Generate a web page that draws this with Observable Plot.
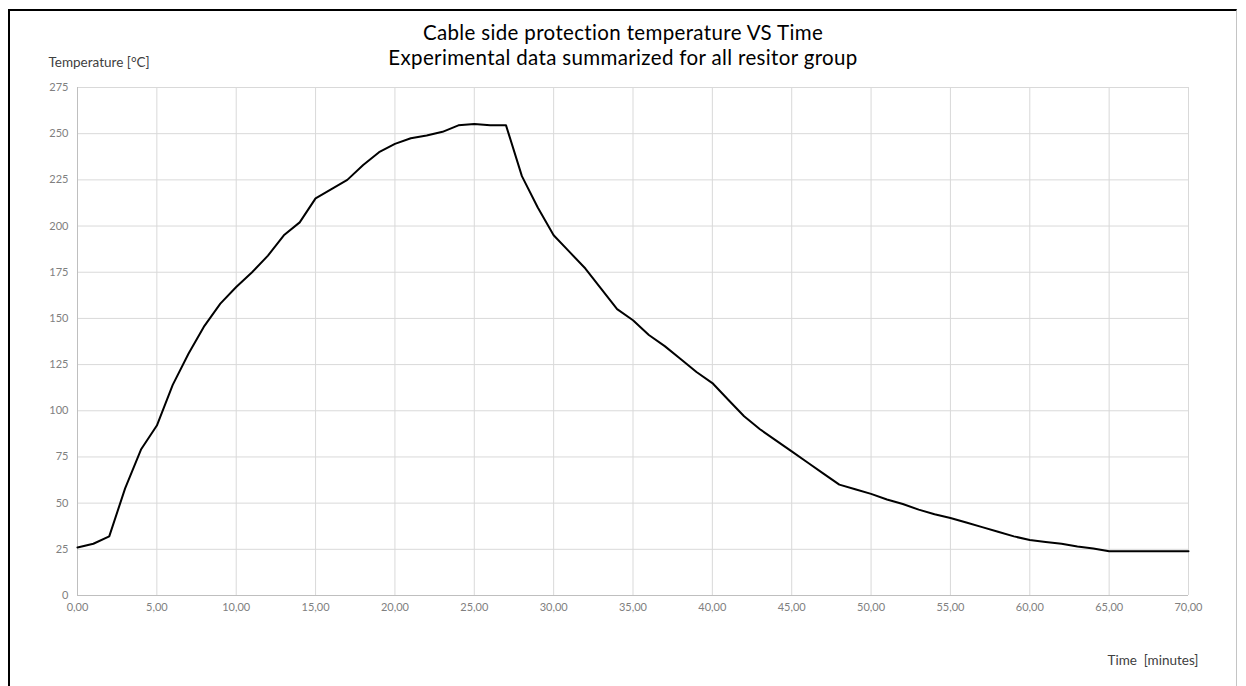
<!DOCTYPE html>
<html>
<head>
<meta charset="utf-8">
<script src="https://cdn.jsdelivr.net/npm/d3@7"></script>
<script src="https://cdn.jsdelivr.net/npm/@observablehq/plot@0.6"></script>
<style>
  html, body { margin: 0; padding: 0; background: #fff; }
  #wrap { position: relative; width: 1246px; height: 686px; overflow: hidden; }
  #frame { position: absolute; left: 8px; top: 9px; width: 1229px; height: 700px;
           border-left: 2px solid #000; border-top: 2px solid #000; border-right: 1px solid #c4c4c4;
           pointer-events: none; box-sizing: border-box; }
</style>
</head>
<body>
<div id="wrap"><div id="frame"></div></div>
<script>
const titleLines = ["Cable side protection temperature VS Time", "Experimental data summarized for all resitor group"];
const yLabel = "Temperature [°C]";
const xLabel = "Time\u00a0 [minutes]";

const timeMin = [0,1,2,3,4,5,6,7,8,9,10,11,12,13,14,15,16,17,18,19,20,21,22,23,24,25,26,27,28,29,30,31,32,33,34,35,36,37,38,39,40,41,42,43,44,45,46,47,48,49,50,51,52,53,54,55,56,57,58,59,60,61,62,63,64,65,66,67,68,69,70];
const tempC  = [26,28,32,58,79,92,114,131,146,158,167,175,184,195,202,215,220,225,233,240,244.5,247.5,249,251,254.5,255.3,254.5,254.5,227,210,195,186,177,166,155,149,141,135,128,121,115,106,97,90,84,78,72,66,60,57.5,55,52,49.5,46.5,44,42,39.5,37,34.5,32,30,29,28,26.5,25.5,24,24,24,24,24,24];

const xTicks = [0,5,10,15,20,25,30,35,40,45,50,55,60,65,70];
const yTicks = [0,25,50,75,100,125,150,175,200,225,250,275];

const data = timeMin.map((t, i) => ({t, v: tempC[i]}));
const fmtX = d => d3.format(".2f")(d).replace(".", ",");
const font = "Lato, 'Open Sans', sans-serif";

const chart = Plot.plot({
  width: 1246,
  height: 686,
  marginLeft: 77,
  marginRight: 58,
  marginTop: 87,
  marginBottom: 91,
  style: {fontFamily: font, background: "transparent"},
  x: {domain: [0, 70], ticks: xTicks, label: null, tickFormat: fmtX},
  y: {domain: [0, 275], ticks: yTicks, label: null},
  marks: [
    Plot.gridX(xTicks, {stroke: "#d9d9d9", strokeOpacity: 1}),
    Plot.gridY(yTicks, {stroke: "#d9d9d9", strokeOpacity: 1}),
    Plot.ruleX([0], {stroke: "#bfbfbf"}),
    Plot.ruleY([0], {stroke: "#bfbfbf"}),
    Plot.axisX(xTicks, {tickSize: 0, tickPadding: 8, fontSize: 11, fill: "#808080", tickFormat: fmtX, label: null}),
    Plot.axisY(yTicks, {tickSize: 0, tickPadding: 9, fontSize: 11, fill: "#808080", label: null}),
    Plot.line(data, {x: "t", y: "v", stroke: "#000", strokeWidth: 2}),
    Plot.text([titleLines[0]], {frameAnchor: "top", dx: -10, dy: -54, fontSize: 20.5, fill: "#000", lineAnchor: "middle"}),
    Plot.text([titleLines[1]], {frameAnchor: "top", dx: -10, dy: -29, fontSize: 20.5, fill: "#000", lineAnchor: "middle"}),
    Plot.text([yLabel], {frameAnchor: "top-left", dx: -29, dy: -25, textAnchor: "start", lineAnchor: "middle", fontSize: 13.5, fill: "#404040"}),
    Plot.text([xLabel], {frameAnchor: "bottom-right", dx: 10, dy: 65, textAnchor: "end", lineAnchor: "middle", fontSize: 13.5, fill: "#404040"})
  ]
});
chart.querySelectorAll("text").forEach(t => {
  if (titleLines.includes(t.textContent)) t.style.letterSpacing = "0.35px";
});
chart.style.position = "absolute";
chart.style.left = "0px";
chart.style.top = "0px";
document.getElementById("wrap").prepend(chart);
</script>
</body>
</html>
